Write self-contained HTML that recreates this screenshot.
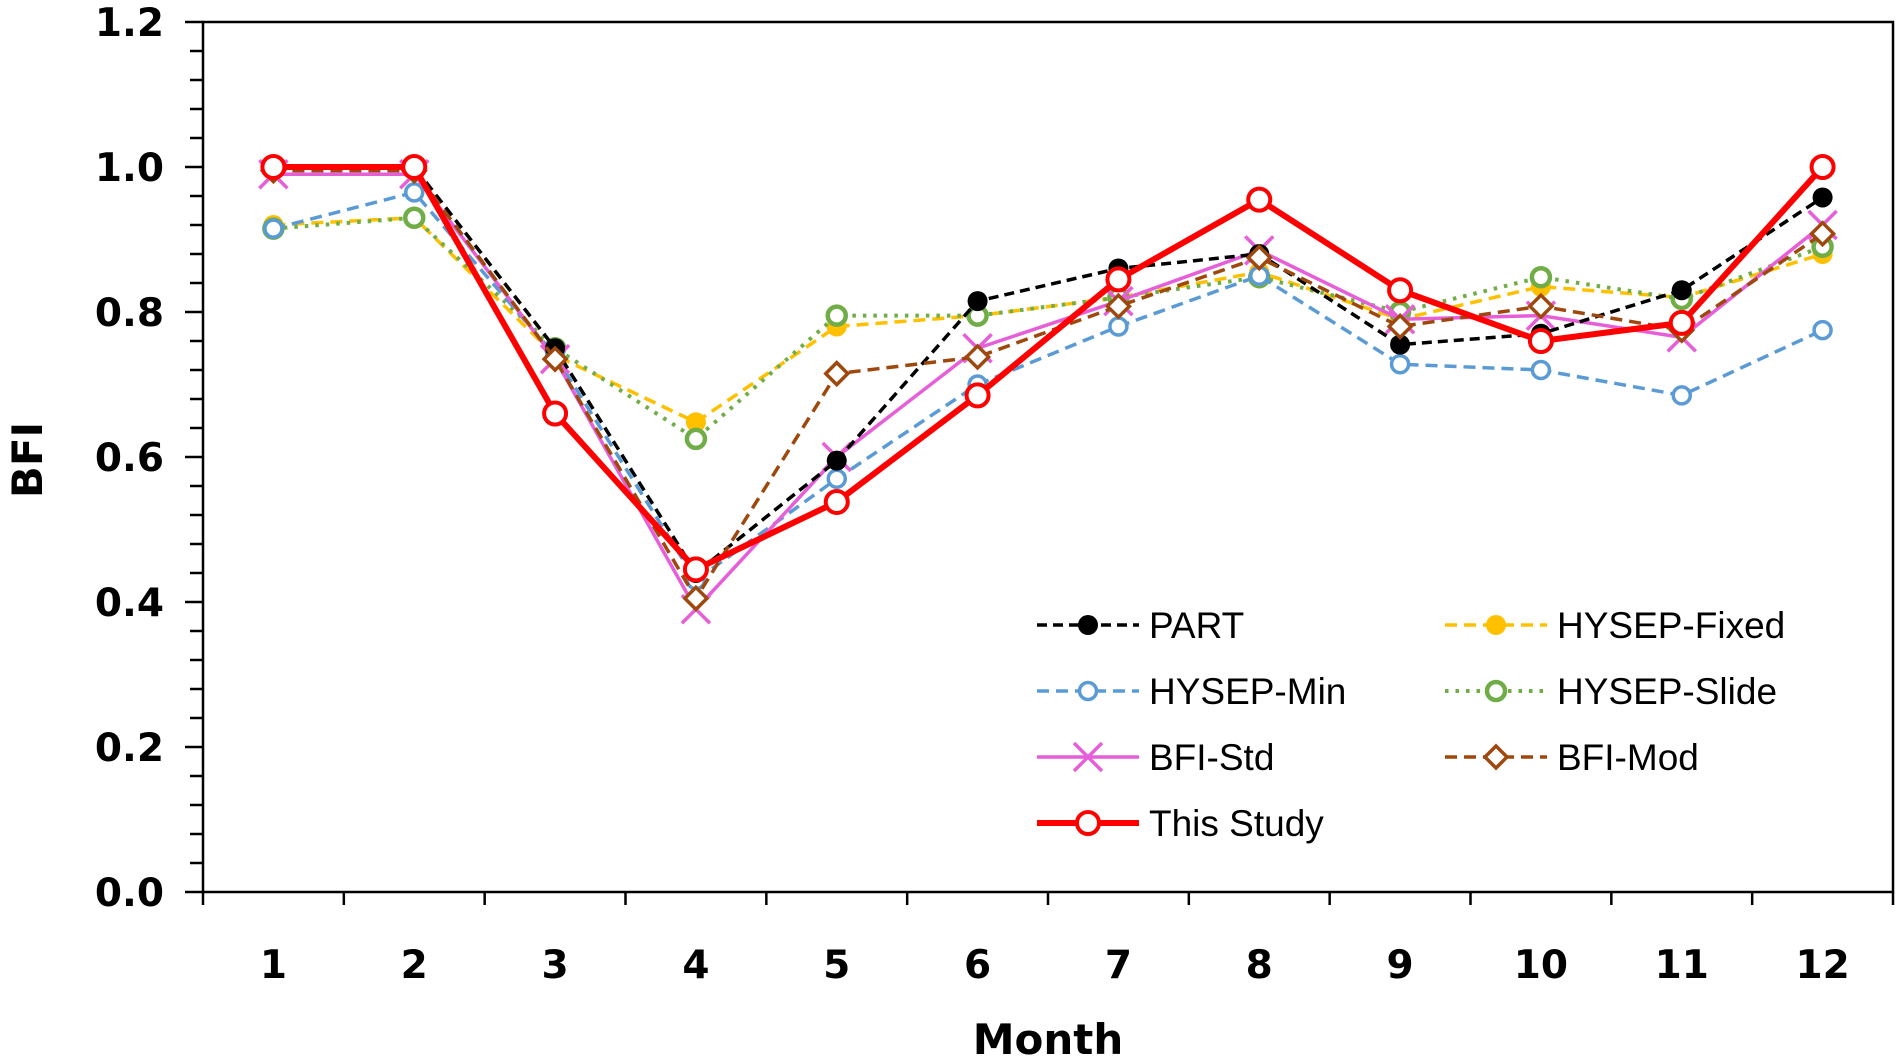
<!DOCTYPE html>
<html><head><meta charset="utf-8"><style>
html,body{margin:0;padding:0;background:#fff;}
svg{display:block;font-family:"Liberation Sans",sans-serif;}
</style></head><body>
<svg id="chart" width="1896" height="1064" viewBox="0 0 1896 1064"></svg>
<script>
const months = ["1","2","3","4","5","6","7","8","9","10","11","12"];
const yTicks = [0.0,0.2,0.4,0.6,0.8,1.0,1.2];
const partVals = [1.0,1.0,0.75,0.44,0.595,0.815,0.86,0.88,0.755,0.77,0.83,0.958];
const fixedVals = [0.92,0.93,0.74,0.648,0.78,0.795,0.82,0.855,0.79,0.835,0.82,0.88];
const minVals = [0.915,0.965,0.74,0.43,0.57,0.70,0.78,0.85,0.728,0.72,0.685,0.775];
const slideVals = [0.915,0.93,0.75,0.625,0.795,0.795,0.82,0.848,0.80,0.848,0.818,0.89];
const stdVals = [0.99,0.99,0.735,0.39,0.60,0.75,0.815,0.885,0.79,0.795,0.765,0.92];
const modVals = [0.995,0.995,0.735,0.405,0.715,0.738,0.808,0.875,0.78,0.808,0.775,0.908];
const studyVals = [1.0,1.0,0.66,0.445,0.538,0.685,0.845,0.955,0.83,0.76,0.785,1.0];

const NS="http://www.w3.org/2000/svg";
const svg=document.getElementById('chart');
const L=203,R=1893,T=22,B=892,yMax=1.2;
const bw=(R-L)/months.length;
const xS=i=>L+bw*(i+0.5);
const yS=v=>B-(v/yMax)*(B-T);
const BOLD='"DejaVu Sans",sans-serif';
function mk(tag,attrs,parent){const e=document.createElementNS(NS,tag);for(const k in attrs)e.setAttribute(k,attrs[k]);(parent||svg).appendChild(e);return e;}

let frame=mk('rect',{x:L,y:T,width:R-L,height:B-T,fill:'none',stroke:'#000','stroke-width':2.5});


for(let k=0;k<=30;k++){const v=k*0.04;const y=yS(v);const major=(k%5===0);
 const t=mk('line',{x1:L-(major?18:13),x2:L,y1:y,y2:y,stroke:'#000','stroke-width':2.5});
 
 }
yTicks.forEach(v=>{const t=mk('text',{x:164,y:yS(v)+14,'text-anchor':'end','font-size':39,'font-weight':'bold','font-family':BOLD});t.textContent=v.toFixed(1);
 
 });
for(let i=0;i<=months.length;i++){const x=L+bw*i;const t=mk('line',{x1:x,x2:x,y1:B,y2:B+13,stroke:'#000','stroke-width':2.5});
 
 }
months.forEach((m,i)=>{const t=mk('text',{x:xS(i),y:978,'text-anchor':'middle','font-size':39,'font-weight':'bold','font-family':BOLD});t.textContent=m;
 
 });
let xt=mk('text',{x:(L+R)/2,y:1054,'text-anchor':'middle','font-size':42,'font-weight':'bold','font-family':BOLD});xt.textContent='Month';


let yt=mk('text',{x:0,y:0,'text-anchor':'middle','font-size':42,'font-weight':'bold','font-family':BOLD,transform:'translate(42,460) rotate(-90)'});yt.textContent='BFI';



function marker(g,type,x,y,c){
 if(type==='dot')mk('circle',{cx:x,cy:y,r:10,fill:c},g);
 else if(type==='ring')mk('circle',{cx:x,cy:y,r:8.5,fill:'#fff',stroke:c,'stroke-width':3.5},g);
 else if(type==='ring2'){mk('circle',{cx:x,cy:y,r:9,fill:'#fff',stroke:c,'stroke-width':4.5},g);}
 else if(type==='x'){mk('path',{d:`M${x-14},${y-14}L${x+14},${y+14}M${x-14},${y+14}L${x+14},${y-14}`,stroke:c,'stroke-width':3.5},g);}
 else if(type==='diamond')mk('path',{d:`M${x},${y-11}L${x+11},${y}L${x},${y+11}L${x-11},${y}Z`,fill:'#fff',stroke:c,'stroke-width':3.5},g);
 else if(type==='big')mk('circle',{cx:x,cy:y,r:11,fill:'#fff',stroke:c,'stroke-width':4},g);
}
const series=[
 {name:'HYSEP-Fixed',key:'hysep-fixed',vals:fixedVals,c:'#FFC000',dash:'12,7',w:3.5,m:'dot'},
 {name:'HYSEP-Slide',key:'hysep-slide',vals:slideVals,c:'#70AD47',dash:'3.5,7',w:4,m:'ring2'},
 {name:'HYSEP-Min',key:'hysep-min',vals:minVals,c:'#5B9BD5',dash:'12,7',w:3.5,m:'ring'},
 {name:'BFI-Std',key:'bfi-std',vals:stdVals,c:'#E65FD8',dash:'',w:3.5,m:'x'},
 {name:'PART',key:'part',vals:partVals,c:'#000',dash:'10,6',w:3.5,m:'dot'},
 {name:'BFI-Mod',key:'bfi-mod',vals:modVals,c:'#9E480E',dash:'12,7',w:3.5,m:'diamond'},
 {name:'This Study',key:'this-study',vals:studyVals,c:'#FF0000',dash:'',w:6,m:'big'}
];
series.forEach(s=>{
 const g=mk('g',{});
 
 
 const pl=mk('polyline',{points:s.vals.map((v,i)=>xS(i)+','+yS(v)).join(' '),fill:'none',stroke:s.c,'stroke-width':s.w,'stroke-dasharray':s.dash,'stroke-linejoin':'round'},g);
 
 
 s.vals.forEach((v,i)=>marker(g,s.m,xS(i),yS(v),s.c));
});
const leg=[
 {s:'part',x:1037,y:625},{s:'hysep-fixed',x:1445,y:625},
 {s:'hysep-min',x:1037,y:691},{s:'hysep-slide',x:1445,y:691},
 {s:'bfi-std',x:1037,y:757},{s:'bfi-mod',x:1445,y:757},
 {s:'this-study',x:1037,y:823}];
const lg=mk('g',{});


leg.forEach(e=>{const s=series.find(q=>q.key===e.s);
 const g=mk('g',{},lg);
 
 
 mk('line',{x1:e.x,x2:e.x+102,y1:e.y,y2:e.y,stroke:s.c,'stroke-width':s.w,'stroke-dasharray':s.dash},g);
 marker(g,s.m,e.x+51,e.y,s.c);
 const t=mk('text',{x:e.x+112,y:e.y+13,'font-size':37},g);t.textContent=s.name;});
</script>
</body></html>
